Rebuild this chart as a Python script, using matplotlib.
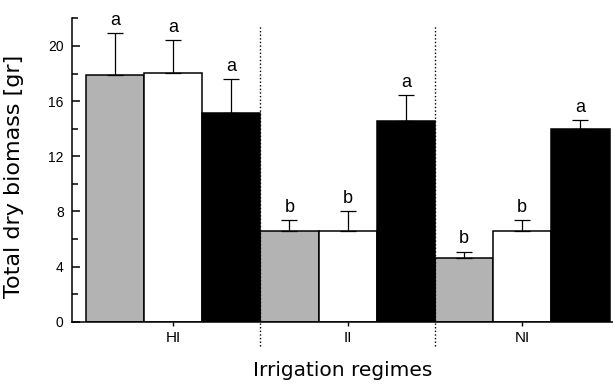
import matplotlib
matplotlib.use("Agg")
import matplotlib.pyplot as plt
import numpy as np

# data
regimes = ["HI", "II", "NI"]
gray_vals = [17.9, 6.6, 4.65]
gray_err = [3.05, 0.78, 0.43]
white_vals = [18.03, 6.58, 6.55]
white_err = [2.37, 1.42, 0.83]
black_vals = [15.1, 14.58, 13.95]
black_err = [2.5, 1.88, 0.68]
gray_letters = ["a", "b", "b"]
white_letters = ["a", "b", "b"]
black_letters = ["a", "a", "a"]

fig = plt.figure(figsize=(6.13, 3.84), dpi=100)
ax = fig.add_axes([0.1175, 0.1622, 0.8825, 0.790])

x = np.arange(len(regimes))
w = 1 / 3

series = [
    (gray_vals, gray_err, gray_letters, "#b3b3b3", -w),
    (white_vals, white_err, white_letters, "white", 0),
    (black_vals, black_err, black_letters, "black", w),
]

for vals, errs, letters, color, off in series:
    ax.bar(x + off, vals, width=w, color=color, edgecolor="black", linewidth=1.1, zorder=2)
    ax.errorbar(x + off, vals, yerr=[np.zeros(len(vals)), errs], fmt="none",
                ecolor="black", elinewidth=0.9, capsize=6, capthick=0.9, zorder=3)
    for xi, v, e, lt in zip(x + off, vals, errs, letters):
        ax.annotate(lt, (xi, v + e), xytext=(0, 3), textcoords="offset points",
                    ha="center", va="bottom", fontsize=13, family="Liberation Sans")

# dotted separators between irrigation regimes
for xs in [0.5, 1.5]:
    ax.plot([xs, xs], [-1.75, 21.45], color="black", linestyle=(0, (1, 1.6)),
            linewidth=1.0, clip_on=False, zorder=4)

ax.set_xlim(-0.579, 2.52)
ax.set_ylim(0, 22)
ax.set_yticks([0, 4, 8, 12, 16, 20])
ax.set_yticks(np.arange(2, 23, 4), minor=True)
ax.set_xticks(x)
ax.set_xticklabels(regimes, fontsize=11, family="Liberation Sans")
for lab in ax.get_yticklabels():
    lab.set_family("Liberation Sans")
    lab.set_fontsize(10)

ax.tick_params(axis="y", which="major", direction="in", length=6, width=1.1, pad=6)
ax.tick_params(axis="y", which="minor", direction="in", length=4, width=1.1)
ax.tick_params(axis="x", which="major", direction="out", length=3, width=1.0, pad=4)

for side in ["top", "right"]:
    ax.spines[side].set_visible(False)
for side in ["left", "bottom"]:
    ax.spines[side].set_linewidth(1.1)

ax.set_ylabel("Total dry biomass [gr]", fontsize=16, family="DejaVu Sans")
ax.yaxis.set_label_coords(-0.088, 0.48)
ax.set_xlabel("Irrigation regimes", fontsize=14.5, family="DejaVu Sans")
ax.xaxis.set_label_coords(0.5, -0.13)

fig.savefig("out.png", dpi=100)
